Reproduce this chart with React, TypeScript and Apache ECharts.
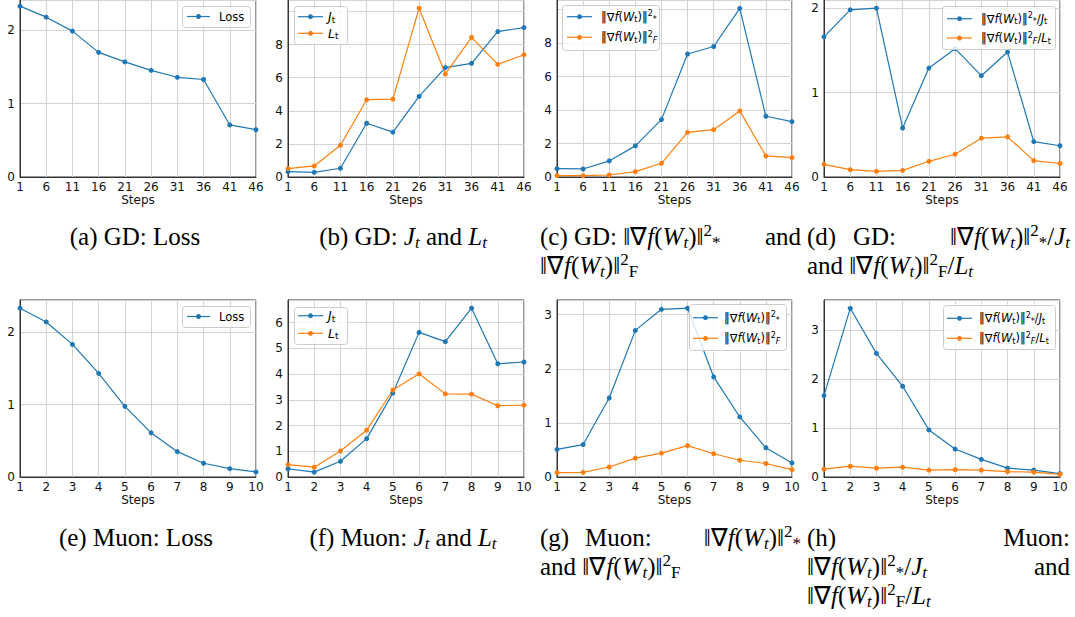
import React, { useEffect, useRef } from "react";
import * as echarts from "echarts";

// ---------------- data ----------------
const stepsGD = ["1", "6", "11", "16", "21", "26", "31", "36", "41", "46"];
const stepsMuon = ["1", "2", "3", "4", "5", "6", "7", "8", "9", "10"];

const gdLoss = [2.33, 2.18, 1.99, 1.70, 1.57, 1.455, 1.36, 1.33, 0.71, 0.645];
const gdJ = [0.32, 0.28, 0.53, 3.25, 2.71, 4.87, 6.61, 6.87, 8.79, 9.03];
const gdL = [0.51, 0.67, 1.92, 4.67, 4.71, 10.2, 6.22, 8.44, 6.81, 7.39];
const gdNuc = [0.5, 0.48, 0.96, 1.86, 3.43, 7.35, 7.8, 10.08, 3.63, 3.31];
const gdFro = [0.08, 0.08, 0.12, 0.32, 0.82, 2.67, 2.83, 3.95, 1.26, 1.16];
const gdNucJ = [1.66, 1.98, 2.0, 0.58, 1.29, 1.52, 1.2, 1.48, 0.42, 0.37];
const gdFroL = [0.15, 0.087, 0.067, 0.079, 0.186, 0.27, 0.46, 0.475, 0.194, 0.16];

const muonLoss = [2.33, 2.14, 1.83, 1.43, 0.975, 0.61, 0.35, 0.19, 0.115, 0.07];
const muonJ = [0.32, 0.19, 0.61, 1.49, 3.26, 5.62, 5.26, 6.56, 4.4, 4.47];
const muonL = [0.48, 0.38, 1.01, 1.82, 3.38, 4.01, 3.23, 3.22, 2.77, 2.79];
const muonNuc = [0.51, 0.6, 1.46, 2.71, 3.1, 3.12, 1.85, 1.11, 0.54, 0.26];
const muonFro = [0.08, 0.086, 0.185, 0.35, 0.44, 0.58, 0.43, 0.31, 0.25, 0.136];
const muonNucJ = [1.66, 3.44, 2.52, 1.85, 0.96, 0.57, 0.36, 0.18, 0.14, 0.07];
const muonFroL = [0.16, 0.22, 0.18, 0.2, 0.14, 0.15, 0.14, 0.11, 0.1, 0.055];

const yLabelsA = ["0", "1", "2"];
const yLabelsB = ["0", "2", "4", "6", "8"];
const yLabelsC = ["0", "2", "4", "6", "8"];
const yLabelsD = ["0", "1", "2"];
const yLabelsE = ["0", "1", "2"];
const yLabelsF = ["0", "1", "2", "3", "4", "5", "6"];
const yLabelsG = ["0", "1", "2", "3"];
const yLabelsH = ["0", "1", "2", "3"];

const xName = "Steps";

// ---------------- styles ----------------
const BLUE = "#1f77b4";
const ORANGE = "#ff7f0e";
const SANS = '"DejaVu Sans", sans-serif';
const SERIF = '"Liberation Serif", "Times New Roman", serif';

// legend texts (rich)
const tLoss = "{n|Loss}";
const tJ = "{i|J}{sub|t}";
const tL = "{i|L}{sub|t}";
const NORM = "{n|‖∇}{i|f}{n|(}{i|W}{sub|t}{n|)‖}";
const tNuc = NORM + "{sup|2}{sub|*}";
const tFro = NORM + "{sup|2}{subi|F}";
const tNucJ = tNuc + "{n|/}{i|J}{sub|t}";
const tFroL = tFro + "{n|/}{i|L}{sub|t}";

const PANELS = [
  { steps: stepsGD, yInterval: 1, yLabels: yLabelsA, lines: [{ name: "Loss", data: gdLoss, color: BLUE }] },
  { steps: stepsGD, yInterval: 2, yLabels: yLabelsB, lines: [{ name: "J_t", data: gdJ, color: BLUE }, { name: "L_t", data: gdL, color: ORANGE }] },
  { steps: stepsGD, yInterval: 2, yLabels: yLabelsC, lines: [{ name: "nuc", data: gdNuc, color: BLUE }, { name: "fro", data: gdFro, color: ORANGE }] },
  { steps: stepsGD, yInterval: 1, yLabels: yLabelsD, lines: [{ name: "nucJ", data: gdNucJ, color: BLUE }, { name: "froL", data: gdFroL, color: ORANGE }] },
  { steps: stepsMuon, yInterval: 1, yLabels: yLabelsE, lines: [{ name: "Loss", data: muonLoss, color: BLUE }] },
  { steps: stepsMuon, yInterval: 1, yLabels: yLabelsF, lines: [{ name: "J_t", data: muonJ, color: BLUE }, { name: "L_t", data: muonL, color: ORANGE }] },
  { steps: stepsMuon, yInterval: 1, yLabels: yLabelsG, lines: [{ name: "nuc", data: muonNuc, color: BLUE }, { name: "fro", data: muonFro, color: ORANGE }] },
  { steps: stepsMuon, yInterval: 1, yLabels: yLabelsH, lines: [{ name: "nucJ", data: muonNucJ, color: BLUE }, { name: "froL", data: muonFroL, color: ORANGE }] },
];

const COLS = [
  { left: 20, width: 236 },
  { left: 288, width: 236 },
  { left: 557, width: 235 },
  { left: 824, width: 236 },
];
const ROWS = [
  { top: -1, height: 178 },
  { top: 300, height: 177 },
];

const LEGENDS = [
  { box: [182, 6, 68, 21], handle: [187, 210], tx: 219, ys: [16.5], fs: 11.5, texts: [tLoss], colors: [BLUE] },
  { box: [294, 6, 53, 38], handle: [298, 323], tx: 328, ys: [16.7, 33.3], fs: 12.5, texts: [tJ, tL], colors: [BLUE, ORANGE] },
  { box: [562, 5, 97, 45], handle: [567, 592], tx: 601, ys: [16.7, 37.3], fs: 11.5, texts: [tNuc, tFro], colors: [BLUE, ORANGE] },
  { box: [942, 6, 113, 43], handle: [947, 972], tx: 981, ys: [18.7, 38], fs: 11.5, texts: [tNucJ, tFroL], colors: [BLUE, ORANGE] },
  { box: [182, 306, 68, 21], handle: [187, 210], tx: 219, ys: [316.5], fs: 11.5, texts: [tLoss], colors: [BLUE] },
  { box: [294, 307, 53, 37], handle: [298, 323], tx: 328, ys: [315.7, 333.3], fs: 12.5, texts: [tJ, tL], colors: [BLUE, ORANGE] },
  { box: [689, 304, 97, 46], handle: [693, 718], tx: 724, ys: [317.7, 338.3], fs: 11.5, texts: [tNuc, tFro], colors: [BLUE, ORANGE] },
  { box: [943, 305, 112, 44], handle: [947, 972], tx: 979, ys: [318.3, 338.3], fs: 11.5, texts: [tNucJ, tFroL], colors: [BLUE, ORANGE] },
];

function legendRich(fs: number) {
  const small = Math.round(fs * 0.7);
  const lh = Math.round(fs * 1.2);
  const base = { fontFamily: SANS, fill: "#000", align: "left" };
  return {
    n: { ...base, fontSize: fs, lineHeight: lh },
    i: { ...base, fontSize: fs, lineHeight: lh, fontStyle: "italic" },
    sup: { ...base, fontSize: small, lineHeight: Math.round(fs * 0.5), verticalAlign: "top" },
    sub: { ...base, fontSize: small, lineHeight: Math.round(fs * 0.5), verticalAlign: "bottom" },
    subi: { ...base, fontSize: small, lineHeight: Math.round(fs * 0.5), verticalAlign: "bottom", fontStyle: "italic" },
  };
}

// ---------------- captions ----------------
const CFS = 25;
const CBASE = { fontFamily: SERIF, fill: "#000", align: "left" };
const captionRich = {
  r: { ...CBASE, fontSize: CFS, lineHeight: 29 },
  i: { ...CBASE, fontSize: CFS, lineHeight: 29, fontStyle: "italic" },
  sup: { ...CBASE, fontSize: 17, lineHeight: 14, verticalAlign: "top" },
  sub: { ...CBASE, fontSize: 17, lineHeight: 16, verticalAlign: "bottom" },
  subi: { ...CBASE, fontSize: 17, lineHeight: 16, verticalAlign: "bottom", fontStyle: "italic" },
};
const CNORM = "{r|‖∇}{i|f}{r|(}{i|W}{subi|t}{r|)‖}";
const cNuc = CNORM + "{sup|2}{sub|*}";
const cFro = CNORM + "{sup|2}{sub|F}";
const cJ = "{i|J}{subi|t}";
const cL = "{i|L}{subi|t}";

// [text, x, baseline, align]
const CAPTIONS: [string, number, number, string][] = [
  ["{r|(a) GD: Loss}", 135, 245, "center"],
  ["{r|(b) GD: }" + cJ + "{r| and }" + cL, 403, 245, "center"],
  ["{r|(c) GD: }" + cNuc, 540, 245, "left"],
  ["{r|and}", 801, 245, "right"],
  [cFro, 540, 274, "left"],
  ["{r|(d)}", 807, 245, "left"],
  ["{r|GD:}", 853, 245, "left"],
  [cNuc + "{r|/}" + cJ, 1070, 245, "right"],
  ["{r|and }" + cFro + "{r|/}" + cL, 807, 274, "left"],
  ["{r|(e) Muon: Loss}", 136, 546, "center"],
  ["{r|(f) Muon: }" + cJ + "{r| and }" + cL, 403, 546, "center"],
  ["{r|(g)}", 540, 546, "left"],
  ["{r|Muon:}", 585, 546, "left"],
  [cNuc, 801, 546, "right"],
  ["{r|and }" + cFro, 540, 575, "left"],
  ["{r|(h)}", 807, 546, "left"],
  ["{r|Muon:}", 1070, 546, "right"],
  [cNuc + "{r|/}" + cJ, 807, 575, "left"],
  ["{r|and}", 1070, 575, "right"],
  [cFro + "{r|/}" + cL, 807, 604, "left"],
];

function buildOption() {
  const grid: any[] = [];
  const xAxis: any[] = [];
  const yAxis: any[] = [];
  const series: any[] = [];
  PANELS.forEach((p, k) => {
    const col = COLS[k % 4];
    const row = ROWS[Math.floor(k / 4)];
    grid.push({
      left: col.left,
      width: col.width,
      top: row.top,
      height: row.height,
      show: true,
      borderColor: "#333",
      borderWidth: 1,
      containLabel: false,
    });
    xAxis.push({
      type: "category",
      gridIndex: k,
      data: p.steps,
      boundaryGap: false,
      name: xName,
      nameLocation: "middle",
      nameGap: 17,
      nameTextStyle: { fontFamily: SANS, fontSize: 12, color: "#111" },
      axisLine: { show: true, lineStyle: { color: "#333", width: 1 } },
      axisTick: { show: false },
      axisLabel: { interval: 0, fontFamily: SANS, fontSize: 12, color: "#111", margin: 4, hideOverlap: false },
      splitLine: { show: true, interval: 0, lineStyle: { color: "#d4d4d4", width: 1 } },
    });
    const labels = p.yLabels;
    yAxis.push({
      type: "value",
      gridIndex: k,
      min: 0,
      max: (v: any) => v.max + 0.05 * (v.max - v.min),
      interval: p.yInterval,
      axisLine: { show: true, lineStyle: { color: "#333", width: 1 } },
      axisTick: { show: false },
      axisLabel: {
        fontFamily: SANS,
        fontSize: 12,
        color: "#111",
        margin: 5,
        formatter: (v: number) => (labels.indexOf(String(v)) >= 0 ? String(v) : ""),
      },
      splitLine: { show: true, lineStyle: { color: "#d4d4d4", width: 1 } },
    });
    p.lines.forEach((l) => {
      series.push({
        type: "line",
        name: l.name,
        xAxisIndex: k,
        yAxisIndex: k,
        data: l.data,
        symbol: "circle",
        symbolSize: 5,
        showSymbol: true,
        color: l.color,
        itemStyle: { color: l.color },
        lineStyle: { color: l.color, width: 1.2 },
        emphasis: { disabled: true },
        silent: true,
      });
    });
  });

  const elements: any[] = [];
  LEGENDS.forEach((lg) => {
    const [bx, by, bw, bh] = lg.box;
    elements.push({
      type: "rect",
      z: 100,
      shape: { x: bx + 0.5, y: by + 0.5, width: bw, height: bh, r: 3 },
      style: { fill: "rgba(255,255,255,0.8)", stroke: "#cccccc", lineWidth: 1 },
    });
    const rich = legendRich(lg.fs);
    lg.texts.forEach((t, j) => {
      const y = lg.ys[j];
      const c = lg.colors[j];
      elements.push({
        type: "line",
        z: 101,
        shape: { x1: lg.handle[0], y1: y, x2: lg.handle[1], y2: y },
        style: { stroke: c, lineWidth: 1.2 },
      });
      elements.push({
        type: "circle",
        z: 102,
        shape: { cx: (lg.handle[0] + lg.handle[1]) / 2, cy: y, r: 2.5 },
        style: { fill: c },
      });
      elements.push({
        type: "text",
        z: 102,
        x: lg.tx,
        y: y,
        style: {
          text: t,
          rich,
          fontFamily: SANS,
          fontSize: lg.fs,
          fill: "#000",
          align: "left",
          verticalAlign: "middle",
        },
      });
    });
  });

  CAPTIONS.forEach(([t, x, base, align]) => {
    elements.push({
      type: "text",
      z: 100,
      x,
      y: base - 8.4,
      style: {
        text: t,
        rich: captionRich,
        fontFamily: SERIF,
        fontSize: CFS,
        fill: "#000",
        align,
        verticalAlign: "middle",
      },
    });
  });

  return {
    animation: false,
    backgroundColor: "#ffffff",
    textStyle: { fontFamily: SANS },
    grid,
    xAxis,
    yAxis,
    series,
    graphic: { elements },
  };
}

export default function App() {
  const ref = useRef<HTMLDivElement>(null);
  useEffect(() => {
    if (!ref.current) return;
    const chart = echarts.init(ref.current, undefined, { renderer: "svg" });
    chart.setOption(buildOption() as any);
    return () => chart.dispose();
  }, []);
  return (
    <div
      ref={ref}
      style={{ position: "absolute", left: 0, top: 0, width: 1075, height: 617, background: "#fff" }}
    />
  );
}
